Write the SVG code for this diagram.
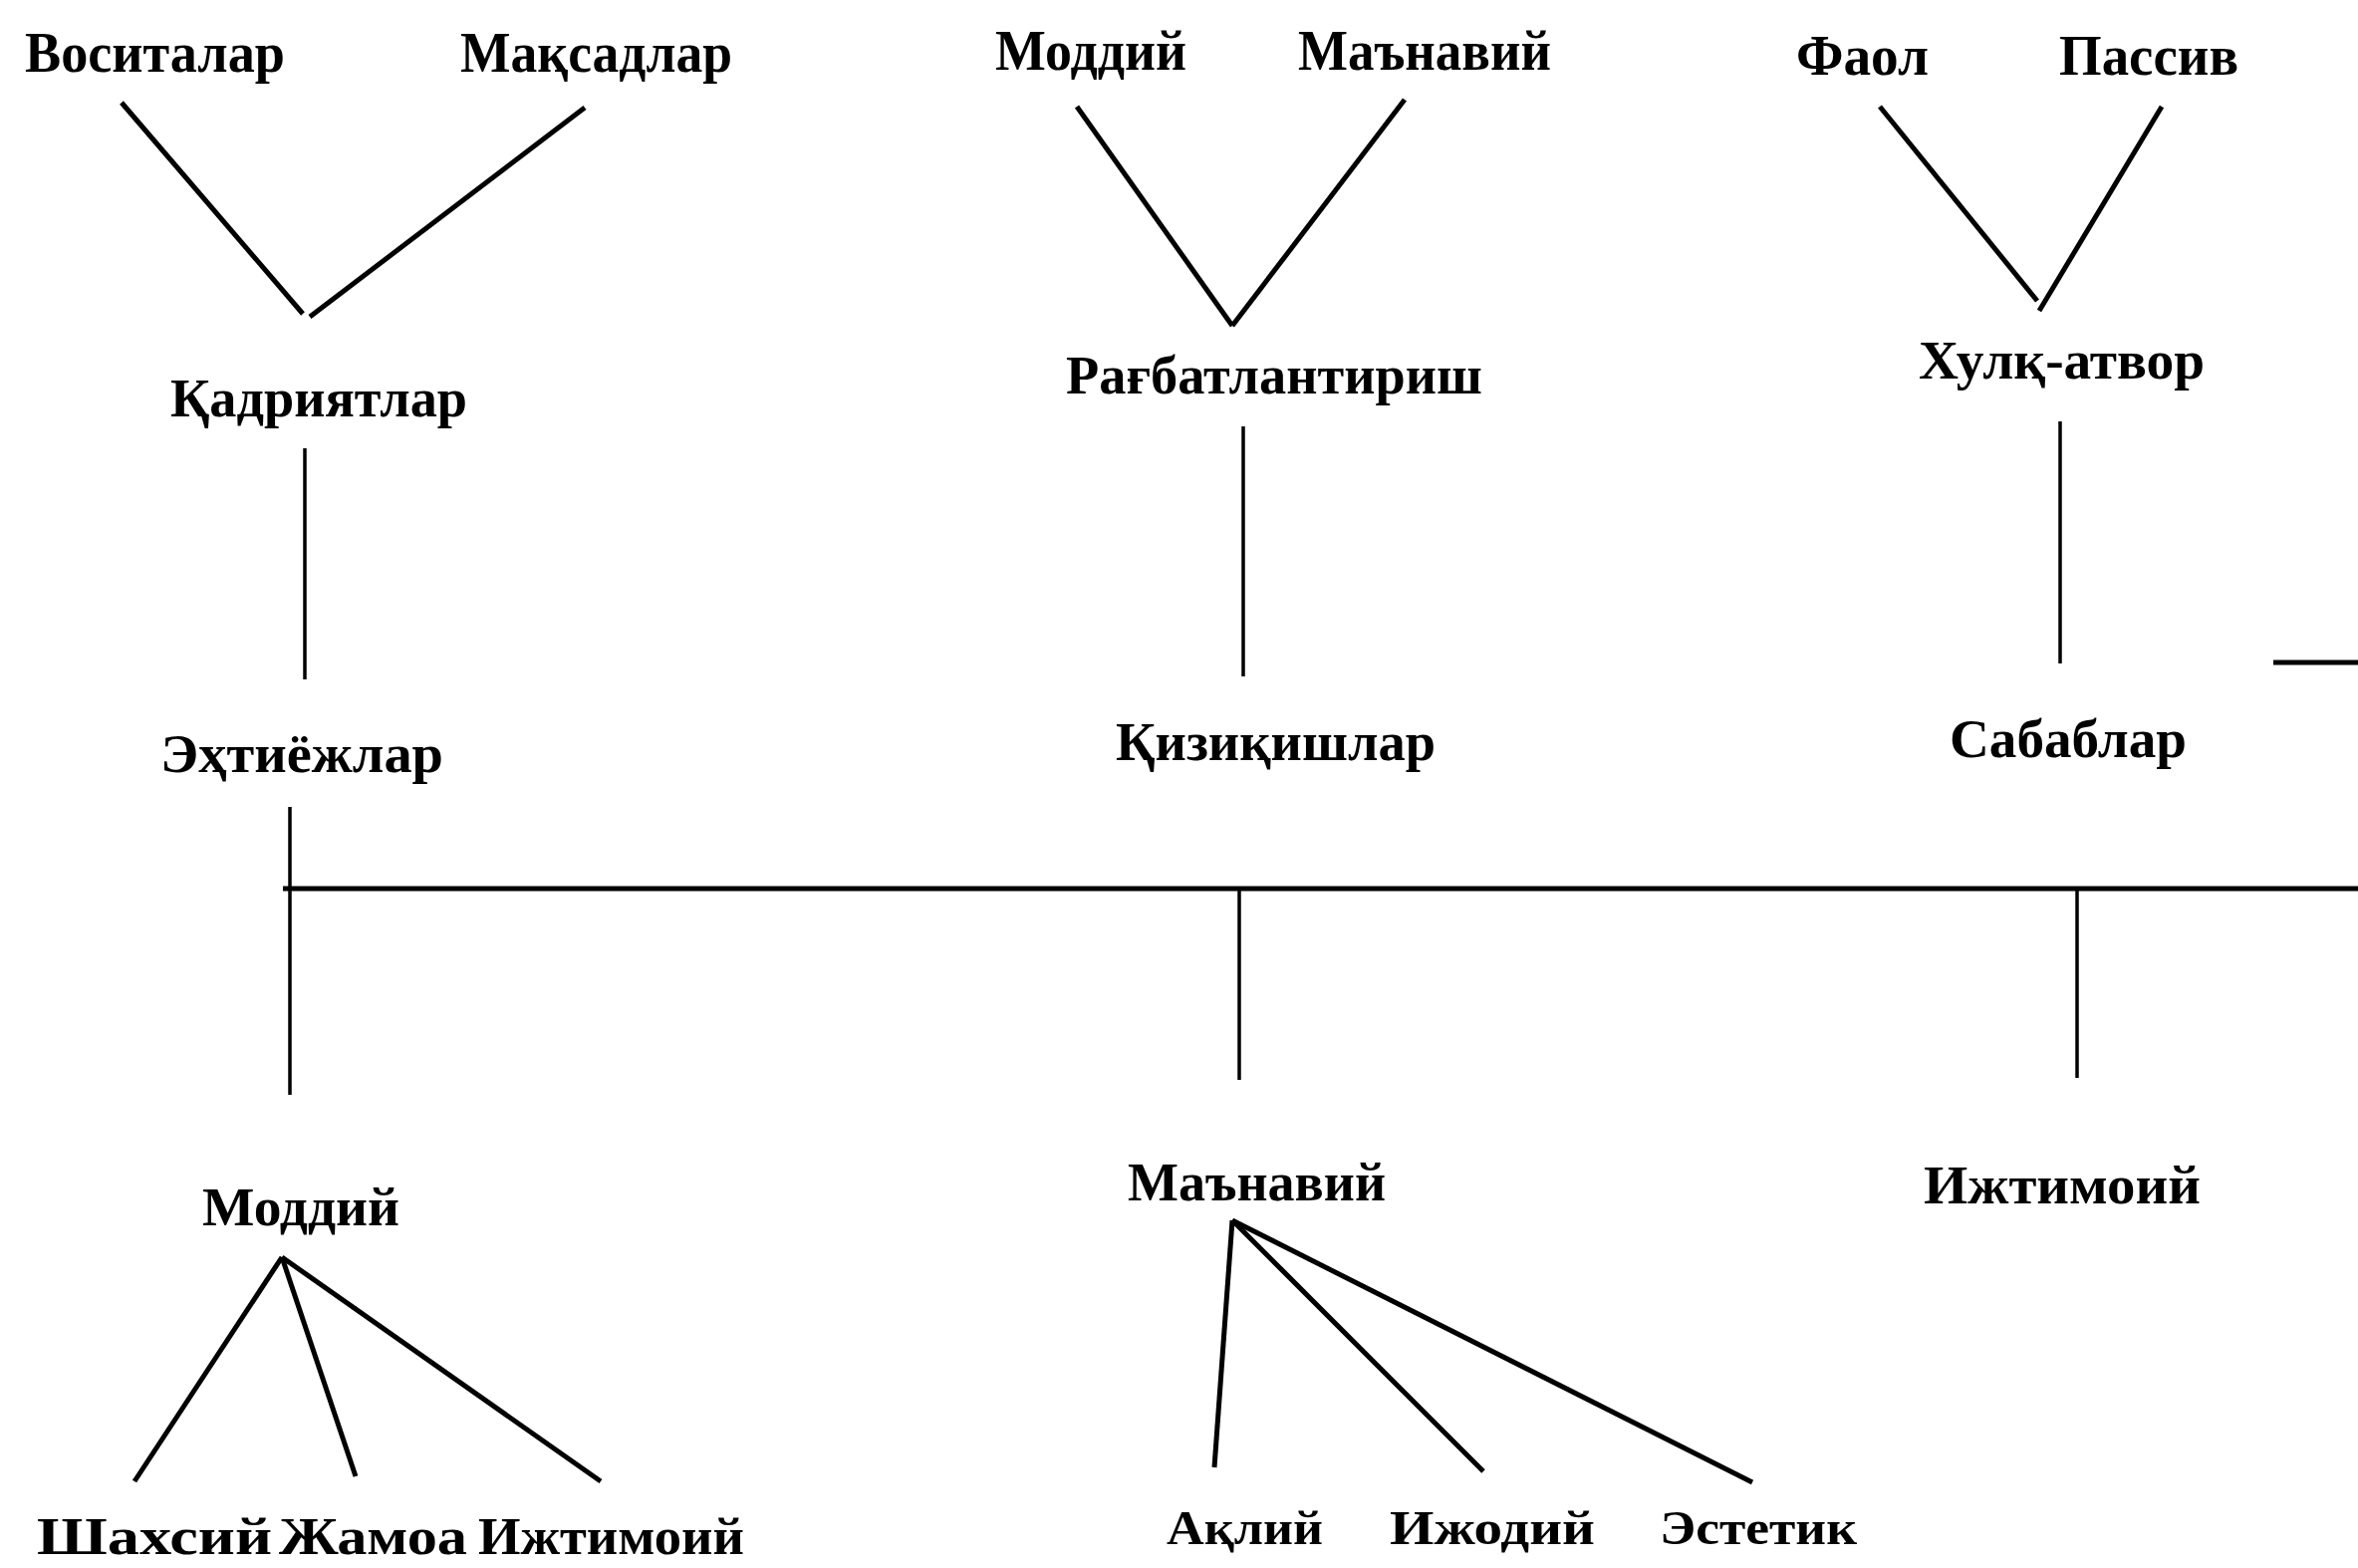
<svg xmlns="http://www.w3.org/2000/svg" width="2367" height="1574" viewBox="0 0 2367 1574">
<style>
text{font-family:"Liberation Serif","Times New Roman",serif;font-weight:bold;fill:#000}
.t1{font-size:58px}
.t2{font-size:55px}
.t3{font-size:49px}
.t4{font-size:53px}
.c line{stroke:#000;stroke-width:5;stroke-linecap:butt}
.c line.v{stroke-width:3.5}
</style>
<rect width="2367" height="1574" fill="#fff"/>
<g class="c" id="connectors">
<line x1="122" y1="103" x2="304" y2="315"/>
<line x1="587" y1="108" x2="311" y2="318"/>
<line class="v" x1="306" y1="450" x2="306" y2="682"/>
<line x1="1081" y1="107" x2="1237" y2="327"/>
<line x1="1410" y1="100" x2="1237" y2="327"/>
<line class="v" x1="1248" y1="428" x2="1248" y2="679"/>
<line x1="1887" y1="107" x2="2045" y2="302"/>
<line x1="2170" y1="107" x2="2047" y2="312"/>
<line class="v" x1="2068" y1="423" x2="2068" y2="666"/>
<line class="v" x1="291" y1="810" x2="291" y2="1099"/>
<line x1="284" y1="892" x2="2367" y2="892"/>
<line class="v" x1="1244" y1="892" x2="1244" y2="1084"/>
<line class="v" x1="2085" y1="892" x2="2085" y2="1082"/>
<line x1="2282" y1="665" x2="2367" y2="665"/>
<line x1="283" y1="1262" x2="135" y2="1487"/>
<line x1="283" y1="1262" x2="357" y2="1482"/>
<line x1="283" y1="1262" x2="603" y2="1487"/>
<line x1="1237" y1="1225" x2="1219" y2="1473"/>
<line x1="1237" y1="1225" x2="1489" y2="1477"/>
<line x1="1237" y1="1225" x2="1759" y2="1488"/>
</g>
<g id="n1"><text class="t1" x="25" y="72" textLength="261" lengthAdjust="spacingAndGlyphs">Воситалар</text></g>
<g id="n2"><text class="t1" x="462" y="72" textLength="273" lengthAdjust="spacingAndGlyphs">Мақсадлар</text></g>
<g id="n3"><text class="t1" x="999" y="70" textLength="192" lengthAdjust="spacingAndGlyphs">Моддий</text></g>
<g id="n4"><text class="t1" x="1303" y="70" textLength="254" lengthAdjust="spacingAndGlyphs">Маънавий</text></g>
<g id="n5"><text class="t1" x="1803" y="75" textLength="133" lengthAdjust="spacingAndGlyphs">Фаол</text></g>
<g id="n6"><text class="t1" x="2067" y="75" textLength="180" lengthAdjust="spacingAndGlyphs">Пассив</text></g>
<g id="n7"><text class="t2" x="171" y="418" textLength="298" lengthAdjust="spacingAndGlyphs">Қадриятлар</text></g>
<g id="n8"><text class="t2" x="1070" y="395" textLength="418" lengthAdjust="spacingAndGlyphs">Рағбатлантириш</text></g>
<g id="n9"><text class="t2" x="1926" y="380" textLength="287" lengthAdjust="spacingAndGlyphs">Хулқ-атвор</text></g>
<g id="n10"><text class="t2" x="161" y="775" textLength="284" lengthAdjust="spacingAndGlyphs">Эҳтиёжлар</text></g>
<g id="n11"><text class="t2" x="1120" y="763" textLength="321" lengthAdjust="spacingAndGlyphs">Қизиқишлар</text></g>
<g id="n12"><text class="t2" x="1957" y="760" textLength="238" lengthAdjust="spacingAndGlyphs">Сабаблар</text></g>
<g id="n13"><text class="t2" x="203" y="1230" textLength="198" lengthAdjust="spacingAndGlyphs">Моддий</text></g>
<g id="n14"><text class="t2" x="1132" y="1205" textLength="259" lengthAdjust="spacingAndGlyphs">Маънавий</text></g>
<g id="n15"><text class="t2" x="1931" y="1208" textLength="278" lengthAdjust="spacingAndGlyphs">Ижтимоий</text></g>
<g id="n16"><text class="t4" x="37" y="1560" textLength="236" lengthAdjust="spacingAndGlyphs">Шахсий</text></g>
<g id="n17"><text class="t4" x="280" y="1560" textLength="189" lengthAdjust="spacingAndGlyphs">Жамоа</text></g>
<g id="n18"><text class="t4" x="480" y="1560" textLength="267" lengthAdjust="spacingAndGlyphs">Ижтимоий</text></g>
<g id="n19"><text class="t3" x="1171" y="1550" textLength="157" lengthAdjust="spacingAndGlyphs">Ақлий</text></g>
<g id="n20"><text class="t3" x="1395" y="1550" textLength="206" lengthAdjust="spacingAndGlyphs">Ижодий</text></g>
<g id="n21"><text class="t3" x="1666" y="1550" textLength="198" lengthAdjust="spacingAndGlyphs">Эстетик</text></g>
</svg>
